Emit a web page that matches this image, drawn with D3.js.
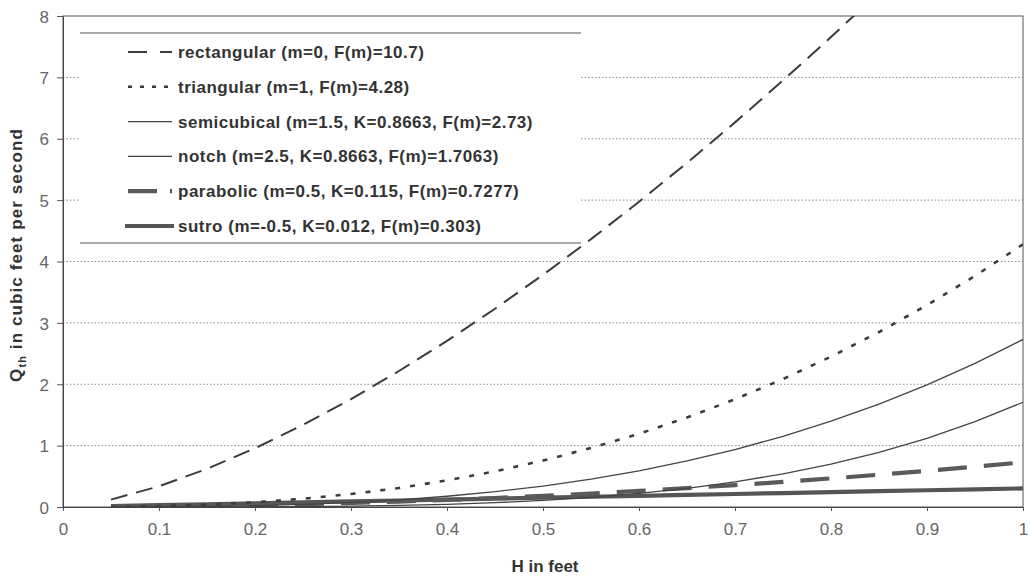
<!DOCTYPE html>
<html>
<head>
<meta charset="utf-8">
<script src="https://cdn.jsdelivr.net/npm/d3@7"></script>
<style>
  html, body { margin: 0; padding: 0; background: #fff; }
  svg { display: block; }
  text { font-family: "Liberation Sans", Arial, Helvetica, sans-serif; }
</style>
</head>
<body>
<svg id="chart" width="1030" height="577"></svg>
<script>
// Head H in feet
const heads = [0.05, 0.10, 0.15, 0.20, 0.25, 0.30, 0.35, 0.40, 0.45, 0.50,
               0.55, 0.60, 0.65, 0.70, 0.75, 0.80, 0.85, 0.90, 0.95, 1.00];

// Theoretical discharge Qth (cfs) for each weir shape
const rectangular = [0.120, 0.338, 0.622, 0.957, 1.338, 1.758, 2.216, 2.707, 3.230, 3.783,
                     4.364, 4.973, 5.607, 6.267, 6.950, 7.656, 8.385, 9.136, 9.908, 10.700];
const triangular  = [0.002, 0.014, 0.037, 0.077, 0.134, 0.211, 0.310, 0.433, 0.581, 0.757,
                     0.960, 1.193, 1.458, 1.755, 2.085, 2.450, 2.851, 3.289, 3.765, 4.280];
const semicubical = [0.000, 0.003, 0.009, 0.022, 0.043, 0.074, 0.117, 0.175, 0.249, 0.341,
                     0.454, 0.590, 0.750, 0.936, 1.152, 1.398, 1.677, 1.990, 2.341, 2.730];
const notch       = [0.000, 0.000, 0.001, 0.003, 0.007, 0.014, 0.026, 0.044, 0.070, 0.107,
                     0.156, 0.221, 0.305, 0.410, 0.540, 0.699, 0.891, 1.119, 1.390, 1.706];
const parabolic   = [0.002, 0.007, 0.016, 0.029, 0.046, 0.066, 0.089, 0.116, 0.147, 0.182,
                     0.220, 0.262, 0.308, 0.357, 0.409, 0.466, 0.526, 0.589, 0.657, 0.728];
const sutro       = [0.015, 0.030, 0.045, 0.061, 0.076, 0.091, 0.106, 0.121, 0.136, 0.152,
                     0.167, 0.182, 0.197, 0.212, 0.227, 0.242, 0.258, 0.273, 0.288, 0.303];

const seriesNames = [
  "rectangular (m=0, F(m)=10.7)",
  "triangular (m=1, F(m)=4.28)",
  "semicubical (m=1.5, K=0.8663, F(m)=2.73)",
  "notch (m=2.5, K=0.8663, F(m)=1.7063)",
  "parabolic (m=0.5, K=0.115, F(m)=0.7277)",
  "sutro (m=-0.5, K=0.012, F(m)=0.303)"
];
const seriesValues = [rectangular, triangular, semicubical, notch, parabolic, sutro];

const xTicks = [0, 0.1, 0.2, 0.3, 0.4, 0.5, 0.6, 0.7, 0.8, 0.9, 1];
const yTicks = [0, 1, 2, 3, 4, 5, 6, 7, 8];

// Line styles per series
const styles = [
  { stroke: "#3c3c3c", width: 2.0, dash: "17,9",  legendDash: "19,13" },
  { stroke: "#3c3c3c", width: 2.6, dash: "5,10",  legendDash: "4,8" },
  { stroke: "#444",    width: 1.3, dash: null,    legendDash: null },
  { stroke: "#444",    width: 1.3, dash: null,    legendDash: null },
  { stroke: "#5a5a5a", width: 4.2, dash: "29,17", legendDash: "29,13" },
  { stroke: "#555",    width: 4.2, dash: null,    legendDash: null }
];

const svg = d3.select("#chart");
const plot = { left: 63, right: 1023, top: 16, bottom: 507 };

const x = d3.scaleLinear().domain([0, 1]).range([plot.left, plot.right]);
const y = d3.scaleLinear().domain([0, 8]).range([plot.bottom, plot.top]);

svg.append("defs").append("clipPath").attr("id", "plotClip")
  .append("rect")
  .attr("x", plot.left).attr("y", plot.top)
  .attr("width", plot.right - plot.left).attr("height", plot.bottom - plot.top);

// Dotted horizontal gridlines
svg.append("g")
  .selectAll("line")
  .data(yTicks.filter(d => d > 0 && d < 8))
  .join("line")
  .attr("x1", plot.left).attr("x2", plot.right)
  .attr("y1", d => y(d)).attr("y2", d => y(d))
  .attr("stroke", "#8a8a8a")
  .attr("stroke-width", 1)
  .attr("stroke-dasharray", "1.5,2");

// Plot frame
svg.append("rect")
  .attr("x", plot.left).attr("y", plot.top)
  .attr("width", plot.right - plot.left).attr("height", plot.bottom - plot.top)
  .attr("fill", "none").attr("stroke", "#555").attr("stroke-width", 1);

// Axes
const xAxis = svg.append("g")
  .attr("transform", `translate(0,${plot.bottom})`)
  .call(d3.axisBottom(x).tickValues(xTicks).tickSize(4).tickPadding(12)
        .tickFormat(d => d3.format("")(+d.toFixed(1))));
const yAxis = svg.append("g")
  .attr("transform", `translate(${plot.left},0)`)
  .call(d3.axisLeft(y).tickValues(yTicks).tickSize(6).tickPadding(8));

[xAxis, yAxis].forEach(g => {
  g.select(".domain").attr("stroke", "#444");
  g.selectAll(".tick line").attr("stroke", "#555");
  g.selectAll(".tick text")
    .attr("fill", "#666")
    .style("font-size", "17px")
    .style("font-family", "'Liberation Sans', Arial, sans-serif");
});
yAxis.selectAll(".tick text").attr("dy", "0.36em");

// Legend box (white panel with top and bottom rules)
const legend = { x0: 80, x1: 581, top: 33, bottom: 243 };
svg.append("rect")
  .attr("x", legend.x0).attr("y", legend.top)
  .attr("width", legend.x1 - legend.x0).attr("height", legend.bottom - legend.top)
  .attr("fill", "#fff");
[legend.top, legend.bottom].forEach(yy => {
  svg.append("line")
    .attr("x1", legend.x0).attr("x2", legend.x1)
    .attr("y1", yy).attr("y2", yy)
    .attr("stroke", "#555").attr("stroke-width", 1);
});

// Series curves
const line = d3.line()
  .x((d, i) => x(heads[i]))
  .y(d => y(d));

const curves = svg.append("g").attr("clip-path", "url(#plotClip)");
// Draw the heavy low-valued series first so the thin ones stay visible
const order = [5, 4, 3, 2, 1, 0];
order.forEach(k => {
  const s = styles[k];
  curves.append("path")
    .datum(seriesValues[k])
    .attr("d", line)
    .attr("fill", "none")
    .attr("stroke", s.stroke)
    .attr("stroke-width", s.width)
    .attr("stroke-dasharray", s.dash)
    .attr("stroke-linejoin", "round");
});

// Legend entries
const rowY = d3.scalePoint().domain(d3.range(seriesNames.length)).range([52, 226]);
seriesNames.forEach((name, k) => {
  const s = styles[k];
  const cy = rowY(k);
  svg.append("line")
    .attr("x1", k === 5 ? 125 : 128).attr("x2", k === 5 ? 174 : 172)
    .attr("y1", cy).attr("y2", cy)
    .attr("stroke", s.stroke)
    .attr("stroke-width", s.width)
    .attr("stroke-dasharray", s.legendDash);
  svg.append("text")
    .attr("x", 178).attr("y", cy + 6)
    .attr("fill", "#333")
    .style("font-size", "17px")
    .style("font-weight", "bold")
    .style("letter-spacing", "0.5px")
    .text(name);
});

// Axis titles
svg.append("text")
  .attr("x", 545).attr("y", 572)
  .attr("text-anchor", "middle")
  .attr("fill", "#333")
  .style("font-size", "17px")
  .style("font-weight", "bold")
  .text("H in feet");

const yTitle = svg.append("text")
  .attr("transform", "translate(22,255) rotate(-90)")
  .attr("text-anchor", "middle")
  .attr("fill", "#333")
  .style("font-size", "17px")
  .style("font-weight", "bold")
  .style("letter-spacing", "1.1px");
yTitle.append("tspan").text("Q");
yTitle.append("tspan").attr("dy", 4).style("font-size", "11px").text("th");
yTitle.append("tspan").attr("dy", -4).text(" in cubic feet per second");
</script>
</body>
</html>
